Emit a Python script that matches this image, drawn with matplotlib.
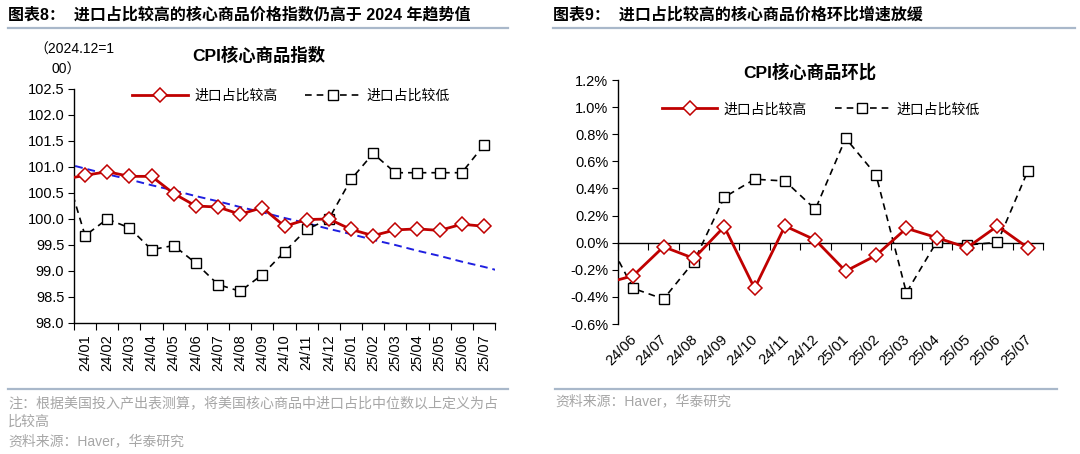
import matplotlib
matplotlib.use("Agg")
import matplotlib.pyplot as plt
import matplotlib.transforms as mtransforms
from matplotlib.lines import Line2D
from matplotlib.ticker import FuncFormatter
import numpy as np

plt.rcParams["font.family"] = ["Liberation Sans", "Noto Sans CJK SC", "DejaVu Sans"]
plt.rcParams["axes.unicode_minus"] = False

# ── 颜色 ─────────────────────────────────────────
RED = "#C00000"
BLACK = "#000000"
BLUE = "#1F1FE0"
RULE = "#A9B8CA"
GREY = "#A6A6A6"

# ── 图表8 数据：CPI核心商品指数（2024.12=100）────────
months8 = ["24/01", "24/02", "24/03", "24/04", "24/05", "24/06", "24/07", "24/08",
           "24/09", "24/10", "24/11", "24/12", "25/01", "25/02", "25/03", "25/04",
           "25/05", "25/06", "25/07"]
# 第一个值为 23/12（被坐标轴裁切）
high8 = [100.76, 100.84, 100.91, 100.82, 100.82, 100.49, 100.25, 100.23, 100.09, 100.22,
         99.86, 99.99, 100.00, 99.80, 99.68, 99.79, 99.81, 99.78, 99.90, 99.86]
low8 = [101.10, 99.68, 100.00, 99.83, 99.41, 99.49, 99.15, 98.74, 98.61, 98.93,
        99.37, 99.80, 100.00, 100.76, 101.26, 100.89, 100.89, 100.89, 100.89, 101.42]
# 2024 年趋势值（首尾各多一个点，被坐标轴裁切）
trend8 = [101.08, 100.97, 100.86, 100.76, 100.65, 100.55, 100.44, 100.34, 100.23, 100.13,
          100.02, 99.92, 99.81, 99.71, 99.60, 99.50, 99.39, 99.29, 99.18, 99.08, 98.97]

# ── 图表9 数据：CPI核心商品环比（%）────────────────
months9 = ["24/06", "24/07", "24/08", "24/09", "24/10", "24/11", "24/12", "25/01",
           "25/02", "25/03", "25/04", "25/05", "25/06", "25/07"]
# 第一个值为 24/05（被坐标轴裁切）
high9 = [-0.305, -0.244, -0.03, -0.116, 0.118, -0.337, 0.123, 0.02, -0.21, -0.094,
         0.106, 0.037, -0.037, 0.123, -0.037]
low9 = [0.09, -0.337, -0.416, -0.14, 0.335, 0.468, 0.455, 0.246, 0.77, 0.50,
        -0.369, 0.007, -0.017, 0.002, 0.529]

LABEL_HIGH = "进口占比较高"
LABEL_LOW = "进口占比较低"

fig = plt.figure(figsize=(10.8, 4.54), dpi=100)
fig.patch.set_facecolor("white")

def fy(py):
    return 1 - py / 454

def fx(px):
    return px / 1080

def rule(x0, x1, py):
    fig.add_artist(Line2D([fx(x0), fx(x1)], [fy(py), fy(py)], color=RULE, lw=1.6,
                          transform=fig.transFigure))

def series(ax, x, high, low):
    ax.plot(x, high, color=RED, lw=2, marker="D", ms=7, mfc="white", mec=RED,
            mew=1.1, label=LABEL_HIGH, zorder=4)
    ax.plot(x, low, color=BLACK, lw=1.2, ls=(0, (4, 3)), marker="s", ms=7.5,
            mfc="white", mec=BLACK, mew=1.0, label=LABEL_LOW, zorder=3)

def style(ax):
    for s in ["top", "right"]:
        ax.spines[s].set_visible(False)
    for s in ["left", "bottom"]:
        ax.spines[s].set_linewidth(1.0)
        ax.spines[s].set_color("black")
    ax.tick_params(axis="y", direction="out", length=4, labelsize=10.5, pad=3)

def legend(ax, x, y):
    ax.legend(loc="center left", bbox_to_anchor=(x, y), ncol=2, frameon=False,
              handlelength=4.0, handletextpad=0.45, columnspacing=2.0,
              prop={"family": ["Noto Sans CJK SC"], "size": 10}, borderaxespad=0)

# ══════════════ 图表8 ══════════════
fig.text(fx(8), fy(15), "图表8：  进口占比较高的核心商品价格指数仍高于 2024 年趋势值",
         fontsize=11.5, fontweight="bold", ha="left", va="center")
rule(8, 508, 28)
fig.text(fx(259), fy(55), "CPI核心商品指数", fontsize=12.5, fontweight="bold",
         ha="center", va="center")
fig.text(fx(74), fy(50), "（2024.12=1", fontsize=10, ha="center", va="center")
fig.text(fx(66), fy(70), "00）", fontsize=10, ha="center", va="center")

ax1 = fig.add_axes([fx(74), fy(323), fx(495 - 74), (323 - 89) / 454])
x8 = np.arange(-1, len(months8))
series(ax1, x8, high8, low8)
ax1.plot(np.arange(-1, len(months8) + 1), trend8, color=BLUE, lw=1.4,
         ls=(0, (4, 2.5)), zorder=2)
ax1.set_xlim(-0.5, len(months8) - 0.5)
ax1.set_ylim(98.0, 102.5)
ax1.set_yticks(np.arange(98.0, 102.51, 0.5))
ax1.yaxis.set_major_formatter(FuncFormatter(lambda v, p: f"{v:.1f}"))
ax1.set_xticks(np.arange(-0.5, len(months8), 1))
ax1.set_xticklabels([])
ax1.set_xticks(np.arange(len(months8)), minor=True)
ax1.set_xticklabels(months8, minor=True, rotation=90, fontsize=10.5)
ax1.tick_params(axis="x", which="major", direction="out", length=5)
ax1.tick_params(axis="x", which="minor", length=0, pad=8)
style(ax1)
legend(ax1, 0.125, 0.972)

rule(8, 508, 389)
fig.text(fx(8), fy(403), "注：根据美国投入产出表测算，将美国核心商品中进口占比中位数以上定义为占",
         fontsize=10.1, color=GREY, ha="left", va="center", family=["Noto Sans CJK SC"])
fig.text(fx(8), fy(422), "比较高", fontsize=10.1, color=GREY, ha="left", va="center",
         family=["Noto Sans CJK SC"])
fig.text(fx(8), fy(441), "资料来源：Haver，华泰研究", fontsize=10, color=GREY,
         ha="left", va="center")

# ══════════════ 图表9 ══════════════
fig.text(fx(553), fy(15), "图表9：  进口占比较高的核心商品价格环比增速放缓",
         fontsize=11.5, fontweight="bold", ha="left", va="center")
rule(553, 1075, 28)
fig.text(fx(810), fy(72), "CPI核心商品环比", fontsize=12.5, fontweight="bold",
         ha="center", va="center")

ax2 = fig.add_axes([fx(618), fy(324), fx(1043 - 618), (324 - 80) / 454])
x9 = np.arange(-1, len(months9))
series(ax2, x9, high9, low9)
ax2.set_xlim(-0.5, len(months9) - 0.5)
ax2.set_ylim(-0.6, 1.2)
ax2.set_yticks(np.arange(-0.6, 1.21, 0.2))
ax2.yaxis.set_major_formatter(FuncFormatter(lambda v, p: f"{v:.1f}%"))
ax2.spines["bottom"].set_position(("data", 0))
ax2.set_xticks(np.arange(-0.5, len(months9), 1))
ax2.tick_params(axis="x", direction="out", length=5, labelbottom=False)
style(ax2)
trans = mtransforms.blended_transform_factory(ax2.transData, ax2.transAxes)
for i, m in enumerate(months9):
    ax2.text(i + 0.2, -0.035, m, transform=trans, rotation=45, ha="right", va="top",
             fontsize=10.5)
legend(ax2, 0.09, 0.88)

rule(555, 1057, 389)
fig.text(fx(555), fy(401), "资料来源：Haver，华泰研究", fontsize=10, color=GREY,
         ha="left", va="center")

fig.savefig("out.png", dpi=100, facecolor="white")
